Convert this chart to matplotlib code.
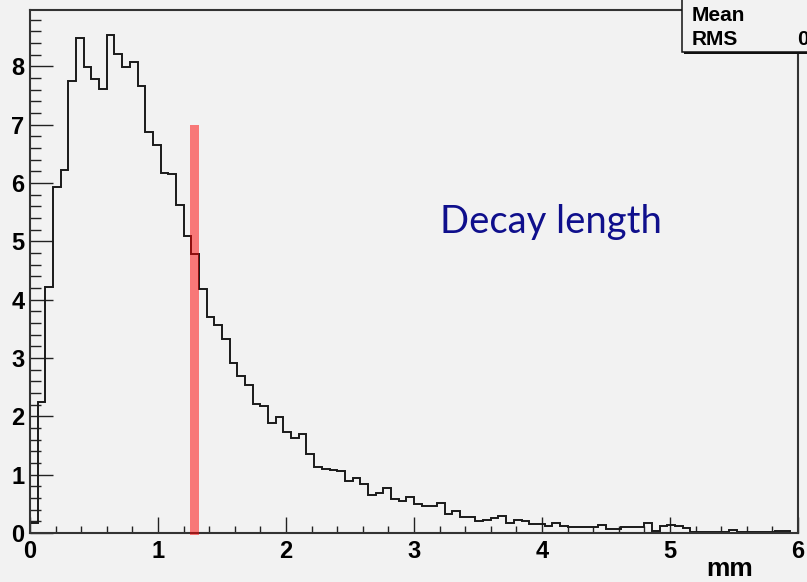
import numpy as np
import matplotlib
matplotlib.use("Agg")
import matplotlib.pyplot as plt
from matplotlib.ticker import MultipleLocator
from matplotlib.patches import Rectangle

# decay length histogram, 100 bins over 0..6 mm
bin_edges = np.linspace(0.0, 6.0, 101)
counts = [
    0.18, 2.24, 4.22, 5.94, 6.22, 7.75, 8.49, 7.99, 7.78, 7.61,
    8.54, 8.21, 7.99, 8.07, 7.66, 6.87, 6.66, 6.18, 6.16, 5.63,
    5.09, 4.78, 4.18, 3.71, 3.57, 3.33, 2.92, 2.70, 2.54, 2.22,
    2.18, 1.89, 1.99, 1.73, 1.63, 1.70, 1.35, 1.13, 1.10, 1.08,
    1.06, 0.90, 0.94, 0.84, 0.65, 0.68, 0.78, 0.59, 0.55, 0.61,
    0.49, 0.46, 0.46, 0.52, 0.32, 0.38, 0.28, 0.27, 0.21, 0.23,
    0.25, 0.30, 0.18, 0.23, 0.21, 0.15, 0.15, 0.12, 0.18, 0.12,
    0.11, 0.11, 0.11, 0.11, 0.14, 0.07, 0.07, 0.11, 0.10, 0.11,
    0.17, 0.04, 0.12, 0.13, 0.12, 0.08, 0.02, 0.02, 0.02, 0.02,
    0.02, 0.06, 0.02, 0.02, 0.02, 0.02, 0.02, 0.04, 0.04, 0.00,
]
x_ticks = [0, 1, 2, 3, 4, 5, 6]
y_ticks = [0, 1, 2, 3, 4, 5, 6, 7, 8]
y_max = 8.966

# marker bar
marker_x = 1.285
marker_top = 7.0
marker_width = 0.07

bg = "#F2F2F2"
W, H = 807, 582

fig = plt.figure(figsize=(W / 100, H / 100), dpi=100, facecolor=bg)
ax = fig.add_axes([30 / W, 49 / H, 768 / W, 523 / H], facecolor=bg)

ax.stairs(counts, bin_edges, color="#1a1a1a", lw=1.4, baseline=0, zorder=2)
ax.bar(marker_x, marker_top + 0.035, width=marker_width, bottom=-0.035,
       color="red", alpha=0.5, lw=0, zorder=3, clip_on=False)

ax.set_xlim(0, 6)
ax.set_ylim(0, y_max)
ax.set_xticks(x_ticks)
ax.set_yticks(y_ticks)
ax.xaxis.set_minor_locator(MultipleLocator(0.2))
ax.yaxis.set_minor_locator(MultipleLocator(0.2))

lab_font = dict(family="Liberation Sans", weight="bold", size=17)
ax.set_xticklabels([str(t) for t in x_ticks], **lab_font)
ax.set_yticklabels([str(t) for t in y_ticks], **lab_font)

ax.tick_params(axis="both", which="both", direction="in", color="#222222", width=1.0)
ax.tick_params(axis="x", which="major", length=11.5, pad=5)
ax.tick_params(axis="x", which="minor", length=5)
ax.tick_params(axis="y", which="major", length=16.5, pad=4)
ax.tick_params(axis="y", which="minor", length=8)

for s in ax.spines.values():
    s.set_color("#333333")
    s.set_linewidth(1.5)

fig.text(753 / W, 1 - 576 / H, "mm", ha="right", va="baseline",
         family="Liberation Sans", weight="bold", size=19)

fig.text(440 / W, 1 - 233 / H, "Decay length", ha="left", va="baseline",
         family="Lato", size=27.5, color="#0F0F8C")

# statistics box in the top-right corner
shadow = Rectangle((684 / W, 1 - 54 / H), 200 / W, 80 / H, transform=fig.transFigure,
                   facecolor="#111111", edgecolor="none", zorder=5)
box = Rectangle((682 / W, 1 - 52 / H), 200 / W, 80 / H, transform=fig.transFigure,
                facecolor=bg, edgecolor="#111111", lw=1.1, zorder=6)
fig.add_artist(shadow)
fig.add_artist(box)
stat_font = dict(family="Liberation Sans", weight="bold", size=15, zorder=7)
fig.text(692 / W, 1 - 21 / H, "Mean", va="baseline", **stat_font)
fig.text(692 / W, 1 - 45 / H, "RMS", va="baseline", **stat_font)
fig.text(816 / W, 1 - 21 / H, "1.362", va="baseline", **stat_font)
fig.text(797 / W, 1 - 45 / H, "0.8561", va="baseline", **stat_font)

fig.savefig("out.png", dpi=100, facecolor=bg)
